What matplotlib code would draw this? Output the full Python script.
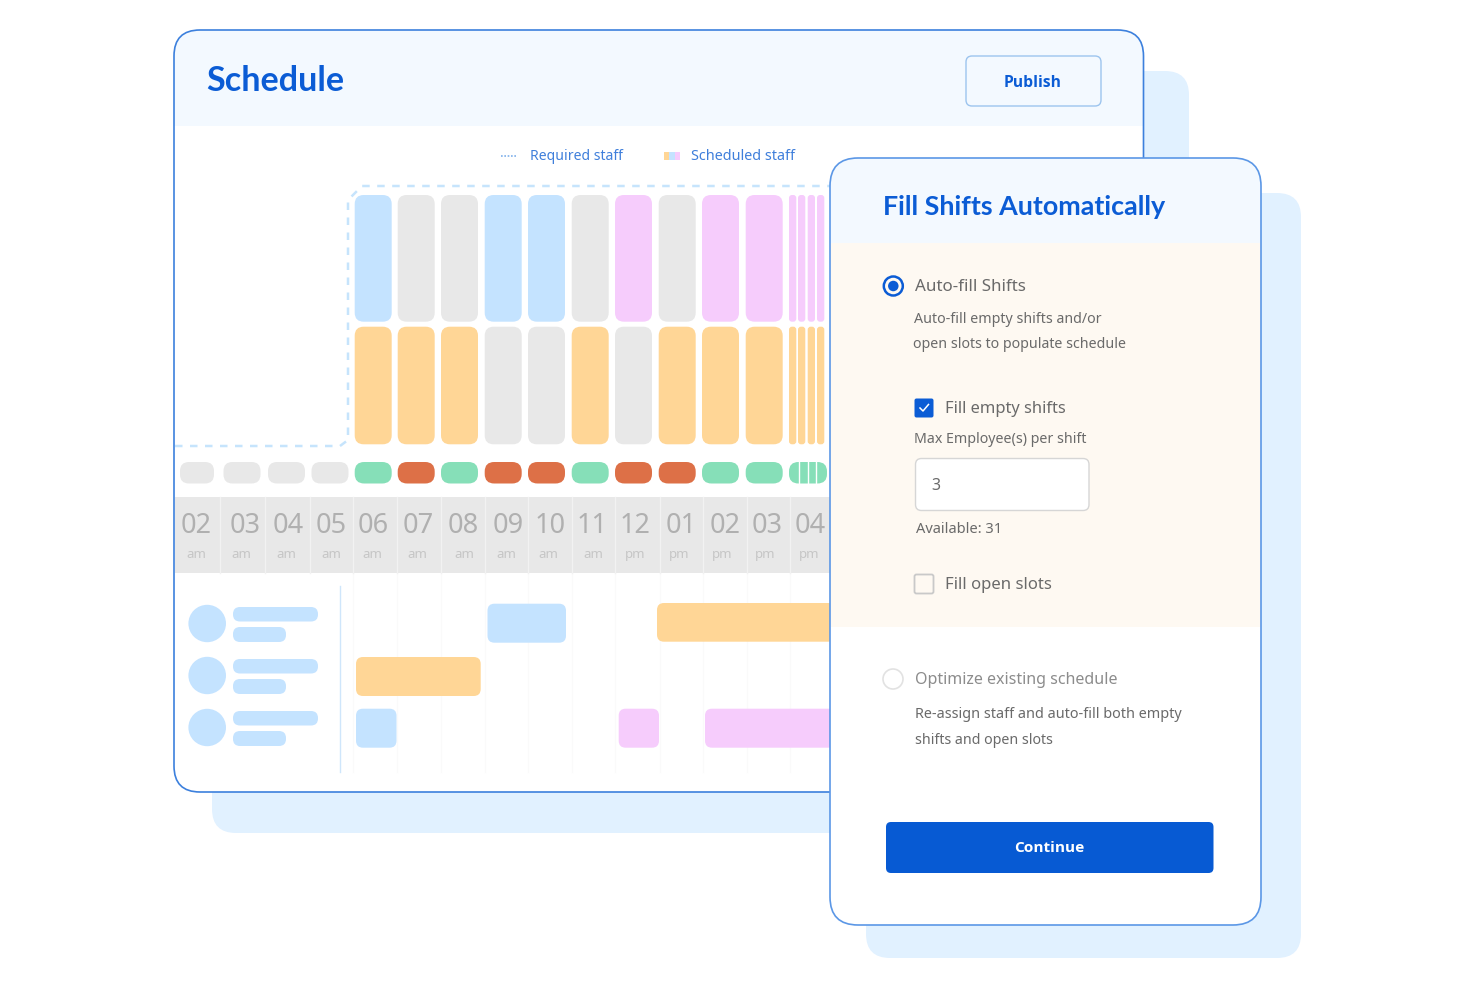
import matplotlib
matplotlib.use("Agg")
import matplotlib.pyplot as plt
from matplotlib.patches import FancyBboxPatch, Rectangle, Ellipse

# ---------- content ----------
hour_labels = ["02","03","04","05","06","07","08","09","10","11","12","01","02","03","04"]
meridiem = ["am"]*10 + ["pm"]*5
top_row = ["blue","gray","gray","blue","blue","gray","pink","gray","pink","pink"]
bottom_row = ["orange","orange","orange","gray","gray","orange","gray","orange","orange","orange"]
status_row = ["green","red","green","red","red","green","red","red","green","green"]
narrow_top = ["pink"]*4
narrow_bottom = ["orange"]*4
legend_labels = ["Required staff", "Scheduled staff"]

# ---------- layout ----------
W, H = 1480, 987
FONT = "Noto Sans"
TITLE = "Lato"
BUTTON = "Open Sans"
BLUE = "#0B5CD5"; TXT = "#6A6A6A"
PAL = dict(blue="#C4E3FF", gray="#E8E8E8", pink="#F6CCFC", orange="#FFD696",
           green="#86DFB8", red="#DD7047")
col_x0 = [354.7,397.7,441,484.7,528,571.7,615,658.7,702,745.7]
col_w = 37
narrow_x0 = [789,798,807.7,817]
narrow_w = 7.3
gray_pills = [(180,214),(223.5,260.5),(268,305),(311.5,348.5)]
seps = [219.6,265.3,309.7,353.3,397.4,440.5,484.5,528,571.7,615.3,659.7,703.3,746.5,789.7]
hour_x = [196,245,288,331,373,418,463,508,550,592,635,681,725,767,810]
mer_x = [196,241,286,331,372,417,464,506,548,593,635,679,722,765,809]
shifts = [(487.5,566,603.7,642.7,"blue"),(657,835,603,641.7,"orange"),
          (356,480.7,657,696,"orange"),(356,396.5,708.7,747.7,"blue"),
          (618.7,659,708.7,747.7,"pink"),(705,835,708.7,747.7,"pink")]
avatar_y = [623.5,675.5,727.5]

fig = plt.figure(figsize=(W/100, H/100), dpi=100, facecolor="white")
ax = fig.add_axes([0,0,1,1])
ax.set_xlim(0,W); ax.set_ylim(H-1,-1); ax.axis("off")
rend = fig.canvas.get_renderer()

def rr(x0,x1,y0,y1,r,fc,ec="none",lw=0,z=1,clip=None):
    p = FancyBboxPatch((x0,y0),x1-x0,y1-y0,boxstyle=f"round,pad=0,rounding_size={r}",
                       fc=fc,ec=ec,lw=lw,zorder=z,mutation_aspect=1)
    ax.add_patch(p)
    if clip is not None: p.set_clip_path(clip)
    return p

def rect(x0,x1,y0,y1,fc,z=1,clip=None):
    p = Rectangle((x0,y0),x1-x0,y1-y0,fc=fc,ec="none",zorder=z)
    ax.add_patch(p)
    if clip is not None: p.set_clip_path(clip)
    return p

def fit(s,x0,x1,base,color=TXT,weight="normal",fam=FONT,z=20):
    t = ax.text(x0,base-1,s,color=color,fontweight=weight,family=fam,fontsize=10,
                va="baseline",ha="left",zorder=z)
    w = t.get_window_extent(rend).width
    t.set_fontsize(10*(x1-x0)/w)
    return t

# back sheets
rr(212,1189,71,833,24,"#E1F1FF",z=1)
rr(866,1301,193,958,24,"#E1F1FF",z=1)

# schedule card
card = rr(174,1143.5,30,792,26,"white",z=2)
rect(170,1150,25,126,"#F3F9FF",z=3,clip=card)
fit("Schedule",206,345,91,BLUE,"bold",TITLE)
rr(966,1101,56,106,6,"#F3F9FF","#9CC4EE",1.0,z=4)
fit("Publish",1004,1062,87,BLUE,"bold",BUTTON)

# legend
ax.plot([501,517],[156,156],color="#7FB0EA",lw=1.2,ls=(0,(1,1)),zorder=5)
fit(legend_labels[0],530,623,160,"#3F7FDB")
for i,c in enumerate(["orange","blue","pink"]):
    rect(664+i*5.3,664+(i+1)*5.3,152,160,PAL[c],z=5)
fit(legend_labels[1],691,795,160,"#3F7FDB")

# required-staff outline
ax.plot([175,340,348,348,362,835],[446,446,440,200,186,186],color="#C6E4FC",lw=1.8,
        ls=(0,(3,3)),zorder=4)

# stacked staffing columns
for x,c in zip(col_x0,top_row):
    rr(x,x+col_w,195,321.7,9,PAL[c],z=5)
for x,c in zip(col_x0,bottom_row):
    rr(x,x+col_w,326.7,444.3,9,PAL[c],z=5)
for x,c in zip(narrow_x0,narrow_top):
    rr(x,x+narrow_w,195,321.7,3,PAL[c],z=5)
for x,c in zip(narrow_x0,narrow_bottom):
    rr(x,x+narrow_w,326.7,444.3,3,PAL[c],z=5)

# status pills
for a,b in gray_pills:
    rr(a,b,462,483.5,9,PAL["gray"],z=5)
for x,c in zip(col_x0,status_row):
    rr(x,x+col_w,462,483.5,9.5,PAL[c],z=5)
rr(789,827,462,483.5,9.5,PAL["green"],z=5)
for x in [799,807.6,816]:
    ax.plot([x,x],[462,483.5],color="white",lw=1,zorder=6)

# hour header
rect(175,835,497,573,"#E8E8E8",z=5)
for x in seps:
    ax.plot([x,x],[497,573],color="#F2F2F2",lw=1,zorder=6)
for x,s in zip(hour_x,hour_labels):
    ax.text(x,532,s,ha="center",va="baseline",fontsize=19.5,color="#B0B0B0",family=FONT,zorder=7)
for x,s in zip(mer_x,meridiem):
    ax.text(x,557,s,ha="center",va="baseline",fontsize=9.5,color="#C6C6C6",family=FONT,zorder=7)

# grid and people
for x in seps[3:]:
    ax.plot([x,x],[573,772],color="#FAFAFA",lw=1,zorder=3)
ax.plot([339.7,339.7],[586,772],color="#CFE6FB",lw=1,zorder=4)
for y in avatar_y:
    ax.add_patch(Ellipse((207.2,y),37.6,37.4,fc=PAL["blue"],ec="none",zorder=5))
    rr(233,318,y-16.5,y-2,7,PAL["blue"],z=5)
    rr(233,286,y+3.5,y+18.5,7,PAL["blue"],z=5)
for a,b,y0,y1,c in shifts:
    rr(a,b,y0,y1,7,PAL[c],z=5)

# card border
rr(174,1143.5,30,792,26,"none","#3C80DD",1.2,z=8)

# fill-shifts panel
panel = rr(830,1261,158,925,28,"white",z=10)
rect(825,1266,150,243,"#F3F9FF",z=11,clip=panel)
rect(825,1266,243,627,"#FEF9F2",z=11,clip=panel)
fit("Fill Shifts Automatically",883,1167,215,BLUE,"bold",TITLE)

ax.add_patch(Ellipse((893.3,286),19,19,fc="#FEF9F2",ec=BLUE,lw=1.8,zorder=15))
ax.add_patch(Ellipse((893.3,286),10.5,10.5,fc=BLUE,ec="none",zorder=16))
fit("Auto-fill Shifts",915,1026,291)
fit("Auto-fill empty shifts and/or",914,1101,323)
fit("open slots to populate schedule",913,1126,348)

rr(914.5,933.5,398.5,417.5,2,BLUE,z=15)
ax.plot([920,923,928.5],[408,411,404.5],color="white",lw=1.1,zorder=16)
fit("Fill empty shifts",945,1066,413)
fit("Max Employee(s) per shift",914,1086,443)
rr(915.5,1089,458.5,510.5,6,"white","#D6D6D6",1.0,z=15)
fit("3",931,940,490)
fit("Available: 31",916,1002,533)
rr(914.5,933.5,574.5,593.5,2,"#FEF9F2","#C9C9C9",1.3,z=15)
fit("Fill open slots",945,1052,589)

ax.add_patch(Ellipse((893,679),20,20,fc="white",ec="#E2E2E2",lw=1.2,zorder=15))
fit("Optimize existing schedule",915,1118,684,"#8C8C8C")
fit("Re-assign staff and auto-fill both empty",915,1181,718)
fit("shifts and open slots",915,1052,744)

rr(886,1213.5,822,873,5,"#075AD3",z=15)
fit("Continue",1014,1084,852.5,"white","bold",BUTTON)
rr(830,1261,158,925,28,"none","#5B97E6",1.2,z=18)

fig.savefig("out.png",dpi=100)
